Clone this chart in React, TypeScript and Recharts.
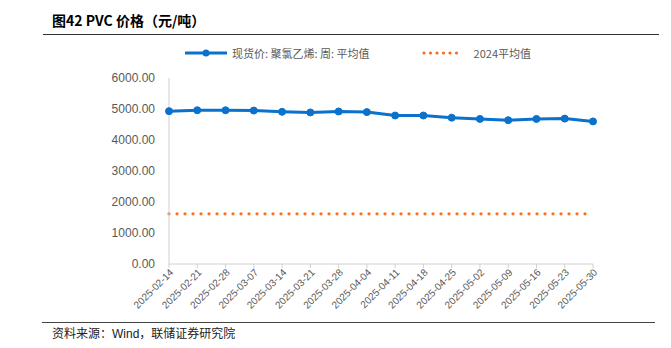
import { LineChart, Line, XAxis, YAxis, Legend } from "recharts";

const dates = [
  "2025-02-14", "2025-02-21", "2025-02-28", "2025-03-07", "2025-03-14",
  "2025-03-21", "2025-03-28", "2025-04-04", "2025-04-11", "2025-04-18",
  "2025-04-25", "2025-05-02", "2025-05-09", "2025-05-16", "2025-05-23",
  "2025-05-30",
];
const spotPrice = [
  4930, 4960, 4960, 4950, 4910, 4890, 4920, 4900, 4790, 4790,
  4720, 4680, 4640, 4680, 4690, 4600,
];
const avg2024 = [
  1620, 1620, 1620, 1620, 1620, 1620, 1620, 1620, 1620, 1620,
  1620, 1620, 1620, 1620, 1620, 1620,
];
const yTicks = [0, 1000, 2000, 3000, 4000, 5000, 6000];

const BLUE = "#0A72CC";
const ORANGE = "#FF6A13";
const GREY = "#595959";
const CJK = '"Noto Sans CJK SC", sans-serif';

const data = dates.map((d, i) => ({ date: d, spot: spotPrice[i], avg: avg2024[i] }));

function LegendBox() {
  return (
    <div style={{ display: "flex", alignItems: "center", fontFamily: CJK, fontSize: 11, color: GREY, height: 15 }}>
      <svg width={42} height={10} style={{ marginRight: 5 }}>
        <line x1={0} y1={5} x2={42} y2={5} stroke={BLUE} strokeWidth={3} />
        <circle cx={21} cy={5} r={3.5} fill={BLUE} />
      </svg>
      <span>现货价: 聚氯乙烯: 周: 平均值</span>
      <svg width={40} height={10} style={{ marginLeft: 52, marginRight: 12 }}>
        <line x1={2} y1={5} x2={38} y2={5} stroke={ORANGE} strokeWidth={3.2} strokeDasharray="0 6.5" strokeLinecap="round" />
      </svg>
      <span>2024平均值</span>
    </div>
  );
}

export default function App() {
  return (
    <div style={{ position: "absolute", left: 0, top: 0, width: 671, height: 348, background: "#fff" }}>
      <div
        style={{
          position: "absolute", left: 52, top: 10, fontFamily: CJK, fontWeight: 700,
          fontSize: 14, color: "#000", lineHeight: "20px",
        }}
      >
        图42 PVC 价格（元/吨）
      </div>
      <div style={{ position: "absolute", left: 43, top: 34, width: 616, height: 1, background: "#333" }} />

      <LineChart width={671} height={348} data={data} margin={{ top: 63, right: 78, bottom: 24, left: 109 }}>
        <Legend
          verticalAlign="top"
          height={15}
          content={() => <LegendBox />}
          wrapperStyle={{ top: 45, left: 185, width: 440 }}
        />
        <XAxis
          dataKey="date"
          interval={0}
          height={60}
          angle={-45}
          textAnchor="end"
          tick={{ fill: GREY, fontSize: 10, fontFamily: "Arial, Liberation Sans, sans-serif" }}
          tickSize={4}
          stroke="#D0D0D0"
          tickLine={{ stroke: "#D0D0D0" }}
          axisLine={{ stroke: "#D0D0D0" }}
          dy={-2}
        />
        <YAxis
          width={60}
          domain={[0, 6000]}
          ticks={yTicks}
          tickFormatter={(v: number) => v.toFixed(2)}
          tick={{ fill: GREY, fontSize: 12, fontFamily: "Arial, Liberation Sans, sans-serif" }}
          tickLine={false}
          axisLine={{ stroke: "#D0D0D0" }}
          tickMargin={8}
        />
        <Line
          dataKey="avg"
          stroke={ORANGE}
          strokeWidth={3.2}
          strokeDasharray="0 8"
          strokeLinecap="round"
          dot={false}
          activeDot={false}
          isAnimationActive={false}
        />
        <Line
          dataKey="spot"
          stroke={BLUE}
          strokeWidth={3}
          dot={{ r: 3.5, fill: BLUE, stroke: BLUE, strokeWidth: 1 }}
          activeDot={false}
          isAnimationActive={false}
        />
      </LineChart>

      <div style={{ position: "absolute", left: 42, top: 322, width: 613, height: 1, background: "#444" }} />
      <div
        style={{
          position: "absolute", left: 52, top: 324, fontFamily: CJK, fontSize: 12,
          color: "#222", lineHeight: "18px",
        }}
      >
        资料来源：<span style={{ fontFamily: "Arial, Liberation Sans, sans-serif" }}>Wind</span>，联储证券研究院
      </div>
    </div>
  );
}
